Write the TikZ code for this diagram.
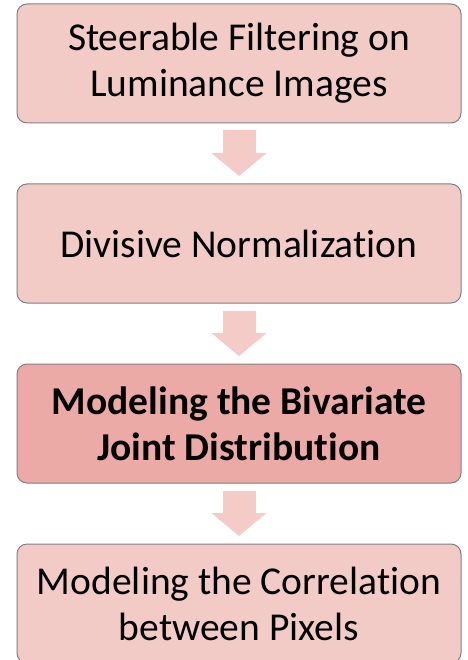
\documentclass[tikz,border=0pt]{standalone}
\usepackage{fontspec}
\setmainfont{Carlito}[Ligatures={NoCommon}]
\usetikzlibrary{arrows.meta}

\definecolor{boxfill}{RGB}{242,203,199}
\definecolor{boxdark}{RGB}{235,170,166}
\definecolor{boxline}{RGB}{128,128,128}
\definecolor{arrowfill}{RGB}{244,203,198}

\tikzset{
  stage/.style={draw=boxline, line width=1pt, fill=boxfill, rounded corners=10pt,
    minimum width=444pt, minimum height=119pt, align=center,
    font=\fontsize{39.5}{46}\selectfont},
  keystage/.style={stage, fill=boxdark, font=\fontsize{39.5}{46}\selectfont\bfseries},
  flow/.style={arrowfill, line width=33pt,
    -{Triangle[length=23pt, width=54pt]}, shorten <=7pt, shorten >=7.5pt}
}

\begin{document}
\begin{tikzpicture}[x=1pt, y=-1pt]

    % page frame, same size as the reference
    \useasboundingbox (0,0) rectangle (467,660);

    % the four stages
    \node[stage] (filter) at (239,63.5) {Steerable Filtering on\\Luminance Images};
    \node[stage] (norm) at (239,243.5) {Divisive Normalization};
    \node[keystage] (joint) at (239,423.5) {Modeling the Bivariate\\Joint Distribution};
    \node[stage] (corr) at (239,603.5) {Modeling the Correlation\\between Pixels};

    % block arrows between them
    \draw[flow] (filter.south) -- (norm.north);
    \draw[flow] (norm.south) -- (joint.north);
    \draw[flow] (joint.south) -- (corr.north);

\end{tikzpicture}
\end{document}
